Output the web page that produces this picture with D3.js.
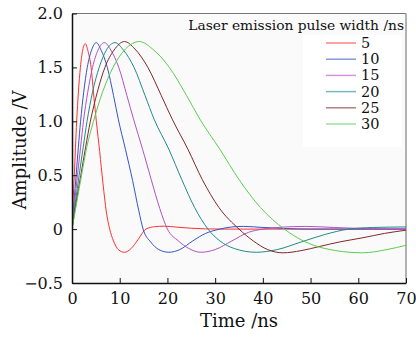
<!DOCTYPE html>
<html>
<head>
<meta charset="utf-8">
<script src="https://cdn.jsdelivr.net/npm/d3@7"></script>
<style>
  html, body { margin: 0; padding: 0; background: #fff; }
  svg text { font-family: "DejaVu Serif", serif; fill: #111; }
</style>
</head>
<body>
<div id="chart"></div>
<script>
// pulse widths (legend) and colours
const widths = ["5", "10", "15", "20", "25", "30"];
const colors = ["#ff3030", "#3454c8", "#b052c0", "#23898c", "#802828", "#5ccc50"];

// [time ns, amplitude V]
const pulse5 = [[0,0],[0.22,0.25],[0.48,0.5],[0.73,0.76],[0.98,1.0],[1.34,1.27],[1.76,1.5],[2.24,1.66],[2.8,1.72],[3.36,1.65],[4.0,1.5],[4.6,1.22],[5.1,1.0],[5.8,0.72],[6.5,0.42],[7.2,0.16],[7.9,0],[8.7,-0.11],[9.7,-0.19],[11.0,-0.215],[12.4,-0.18],[13.8,-0.1],[15.5,0],[17.3,0.022],[19.4,0.027],[22,0.018],[25,0.008],[28,0.002],[32,0],[70,0]];
const pulse10 = [[0,0],[0.41,0.25],[0.87,0.5],[1.33,0.76],[1.8,1.0],[2.45,1.27],[3.2,1.5],[4.1,1.66],[5.1,1.73],[6.1,1.66],[7.4,1.5],[8.7,1.24],[9.7,1.02],[11.2,0.74],[12.7,0.45],[14.0,0.17],[14.9,0],[16.5,-0.12],[18.2,-0.19],[20.3,-0.215],[22.6,-0.19],[25.3,-0.11],[28,-0.04],[31,0],[33.5,0.02],[36,0.025],[40,0.015],[45,0.005],[50,0],[70,0]];
const pulse15 = [[0,0],[0.55,0.25],[1.15,0.5],[1.8,0.76],[2.4,1.0],[3.3,1.27],[4.3,1.5],[5.45,1.66],[6.8,1.73],[8.15,1.66],[9.8,1.5],[11.5,1.24],[12.9,1.02],[14.8,0.74],[16.6,0.46],[18.4,0.19],[20.0,0],[22.3,-0.11],[24.5,-0.18],[27,-0.215],[30,-0.19],[33.5,-0.11],[37,-0.03],[40,0],[44,0.018],[49,0.025],[55,0.015],[62,0.004],[70,0]];
const pulse20 = [[0,0],[0.72,0.25],[1.5,0.5],[2.35,0.76],[3.15,1.0],[4.3,1.27],[5.7,1.5],[7.2,1.66],[9.0,1.73],[10.8,1.66],[13.0,1.5],[15.3,1.24],[17.2,1.02],[20.3,0.74],[23,0.46],[25.7,0.2],[28.5,0],[31,-0.11],[34,-0.18],[38.6,-0.215],[43,-0.19],[48,-0.12],[53,-0.05],[58,0],[63,0.015],[70,0.02]];
const pulse25 = [[0,0],[0.88,0.25],[1.85,0.5],[2.85,0.76],[3.85,1.0],[5.3,1.27],[6.9,1.5],[8.8,1.66],[11,1.74],[13.2,1.67],[15.9,1.5],[18.7,1.24],[21,1.02],[24.3,0.74],[27.3,0.46],[30.8,0.2],[35,0],[38,-0.11],[41,-0.19],[44.2,-0.22],[48,-0.2],[52,-0.16],[56,-0.12],[61,-0.08],[65.5,-0.04],[70,-0.01]];
const pulse30 = [[0,0],[1.0,0.25],[2.0,0.5],[3.1,0.76],[4.5,1.0],[6.4,1.27],[8.6,1.5],[11.2,1.67],[14.1,1.74],[16.9,1.67],[20.4,1.5],[24,1.24],[26.8,1.02],[31,0.74],[35,0.46],[39.5,0.2],[44.5,0],[48.5,-0.11],[53,-0.18],[60.9,-0.22],[66,-0.19],[70,-0.15]];
const series = [pulse5, pulse10, pulse15, pulse20, pulse25, pulse30];

const xTicks = [0, 10, 20, 30, 40, 50, 60, 70];
const yTicks = [-0.5, 0, 0.5, 1.0, 1.5, 2.0];
const yTickLabels = ["\u22120.5", "0", "0.5", "1.0", "1.5", "2.0"];

const W = 416, H = 338;
const M = { l: 72, r: 10, t: 13.5, b: 55 };

const svg = d3.select("#chart").append("svg").attr("width", W).attr("height", H);

const x = d3.scaleLinear().domain([0, 70]).range([M.l, W - M.r]);
const y = d3.scaleLinear().domain([-0.5, 2.0]).range([H - M.b, M.t]);

// plot background
svg.append("rect").attr("x", x(0)).attr("y", y(2)).attr("width", x(70) - x(0)).attr("height", y(-0.5) - y(2))
    .attr("fill", "#fafafa");

svg.append("defs").append("clipPath").attr("id", "clip").append("rect")
    .attr("x", x(0)).attr("y", y(2)).attr("width", x(70) - x(0)).attr("height", y(-0.5) - y(2));

// frame: top and right grey
svg.append("line").attr("x1", x(0)).attr("x2", x(70)).attr("y1", y(2)).attr("y2", y(2)).attr("stroke", "#777").attr("stroke-width", 1);
svg.append("line").attr("x1", x(70)).attr("x2", x(70)).attr("y1", y(2)).attr("y2", y(-0.5)).attr("stroke", "#999").attr("stroke-width", 1.5);

const line = d3.line().x(d => x(d[0])).y(d => y(d[1])).curve(d3.curveMonotoneX);

svg.append("g").attr("clip-path", "url(#clip)").selectAll("path").data(series).join("path")
    .attr("d", line).attr("fill", "none")
    .attr("stroke", (d, i) => colors[i]).attr("stroke-width", 1);

// axes with inward ticks
const xAxis = svg.append("g").attr("transform", `translate(0,${y(-0.5)})`)
    .call(d3.axisBottom(x).tickValues(xTicks).tickSizeInner(-5).tickSizeOuter(0).tickPadding(10));
const yAxis = svg.append("g").attr("transform", `translate(${x(0)},0)`)
    .call(d3.axisLeft(y).tickValues(yTicks).tickFormat((d, i) => yTickLabels[i]).tickSizeInner(-5).tickSizeOuter(0).tickPadding(9));
[xAxis, yAxis].forEach(a => {
    a.select(".domain").attr("stroke", "#111").attr("stroke-width", 1.5);
    a.selectAll(".tick line").attr("stroke", "#111");
    a.selectAll("text").attr("font-family", "DejaVu Serif").attr("font-size", 16).attr("fill", "#111");
});

// axis titles
svg.append("text").attr("x", (x(0) + x(70)) / 2).attr("y", 327).attr("text-anchor", "middle")
    .attr("font-size", 18).text("Time /ns");
svg.append("text").attr("transform", "translate(26,150) rotate(-90)")
    .attr("text-anchor", "middle").attr("font-size", 18).text("Amplitude /V");

// legend
const leg = svg.append("g");
leg.append("rect").attr("x", 303).attr("y", 35).attr("width", 98).attr("height", 112).attr("fill", "#fff");
leg.append("text").attr("x", 404).attr("y", 30).attr("text-anchor", "end").attr("font-size", 13.8)
    .text("Laser emission pulse width /ns");
const rows = leg.selectAll("g.row").data(widths).join("g").attr("class", "row")
    .attr("transform", (d, i) => `translate(0,${43 + i * 16.2})`);
rows.append("line").attr("x1", 326).attr("x2", 356).attr("stroke", (d, i) => colors[i])
    .attr("stroke-width", 1.5).attr("stroke-opacity", 0.6);
rows.append("text").attr("x", 361).attr("y", 5).attr("font-family", "Liberation Serif").attr("font-size", 14.5).text(d => d);
</script>
</body>
</html>
